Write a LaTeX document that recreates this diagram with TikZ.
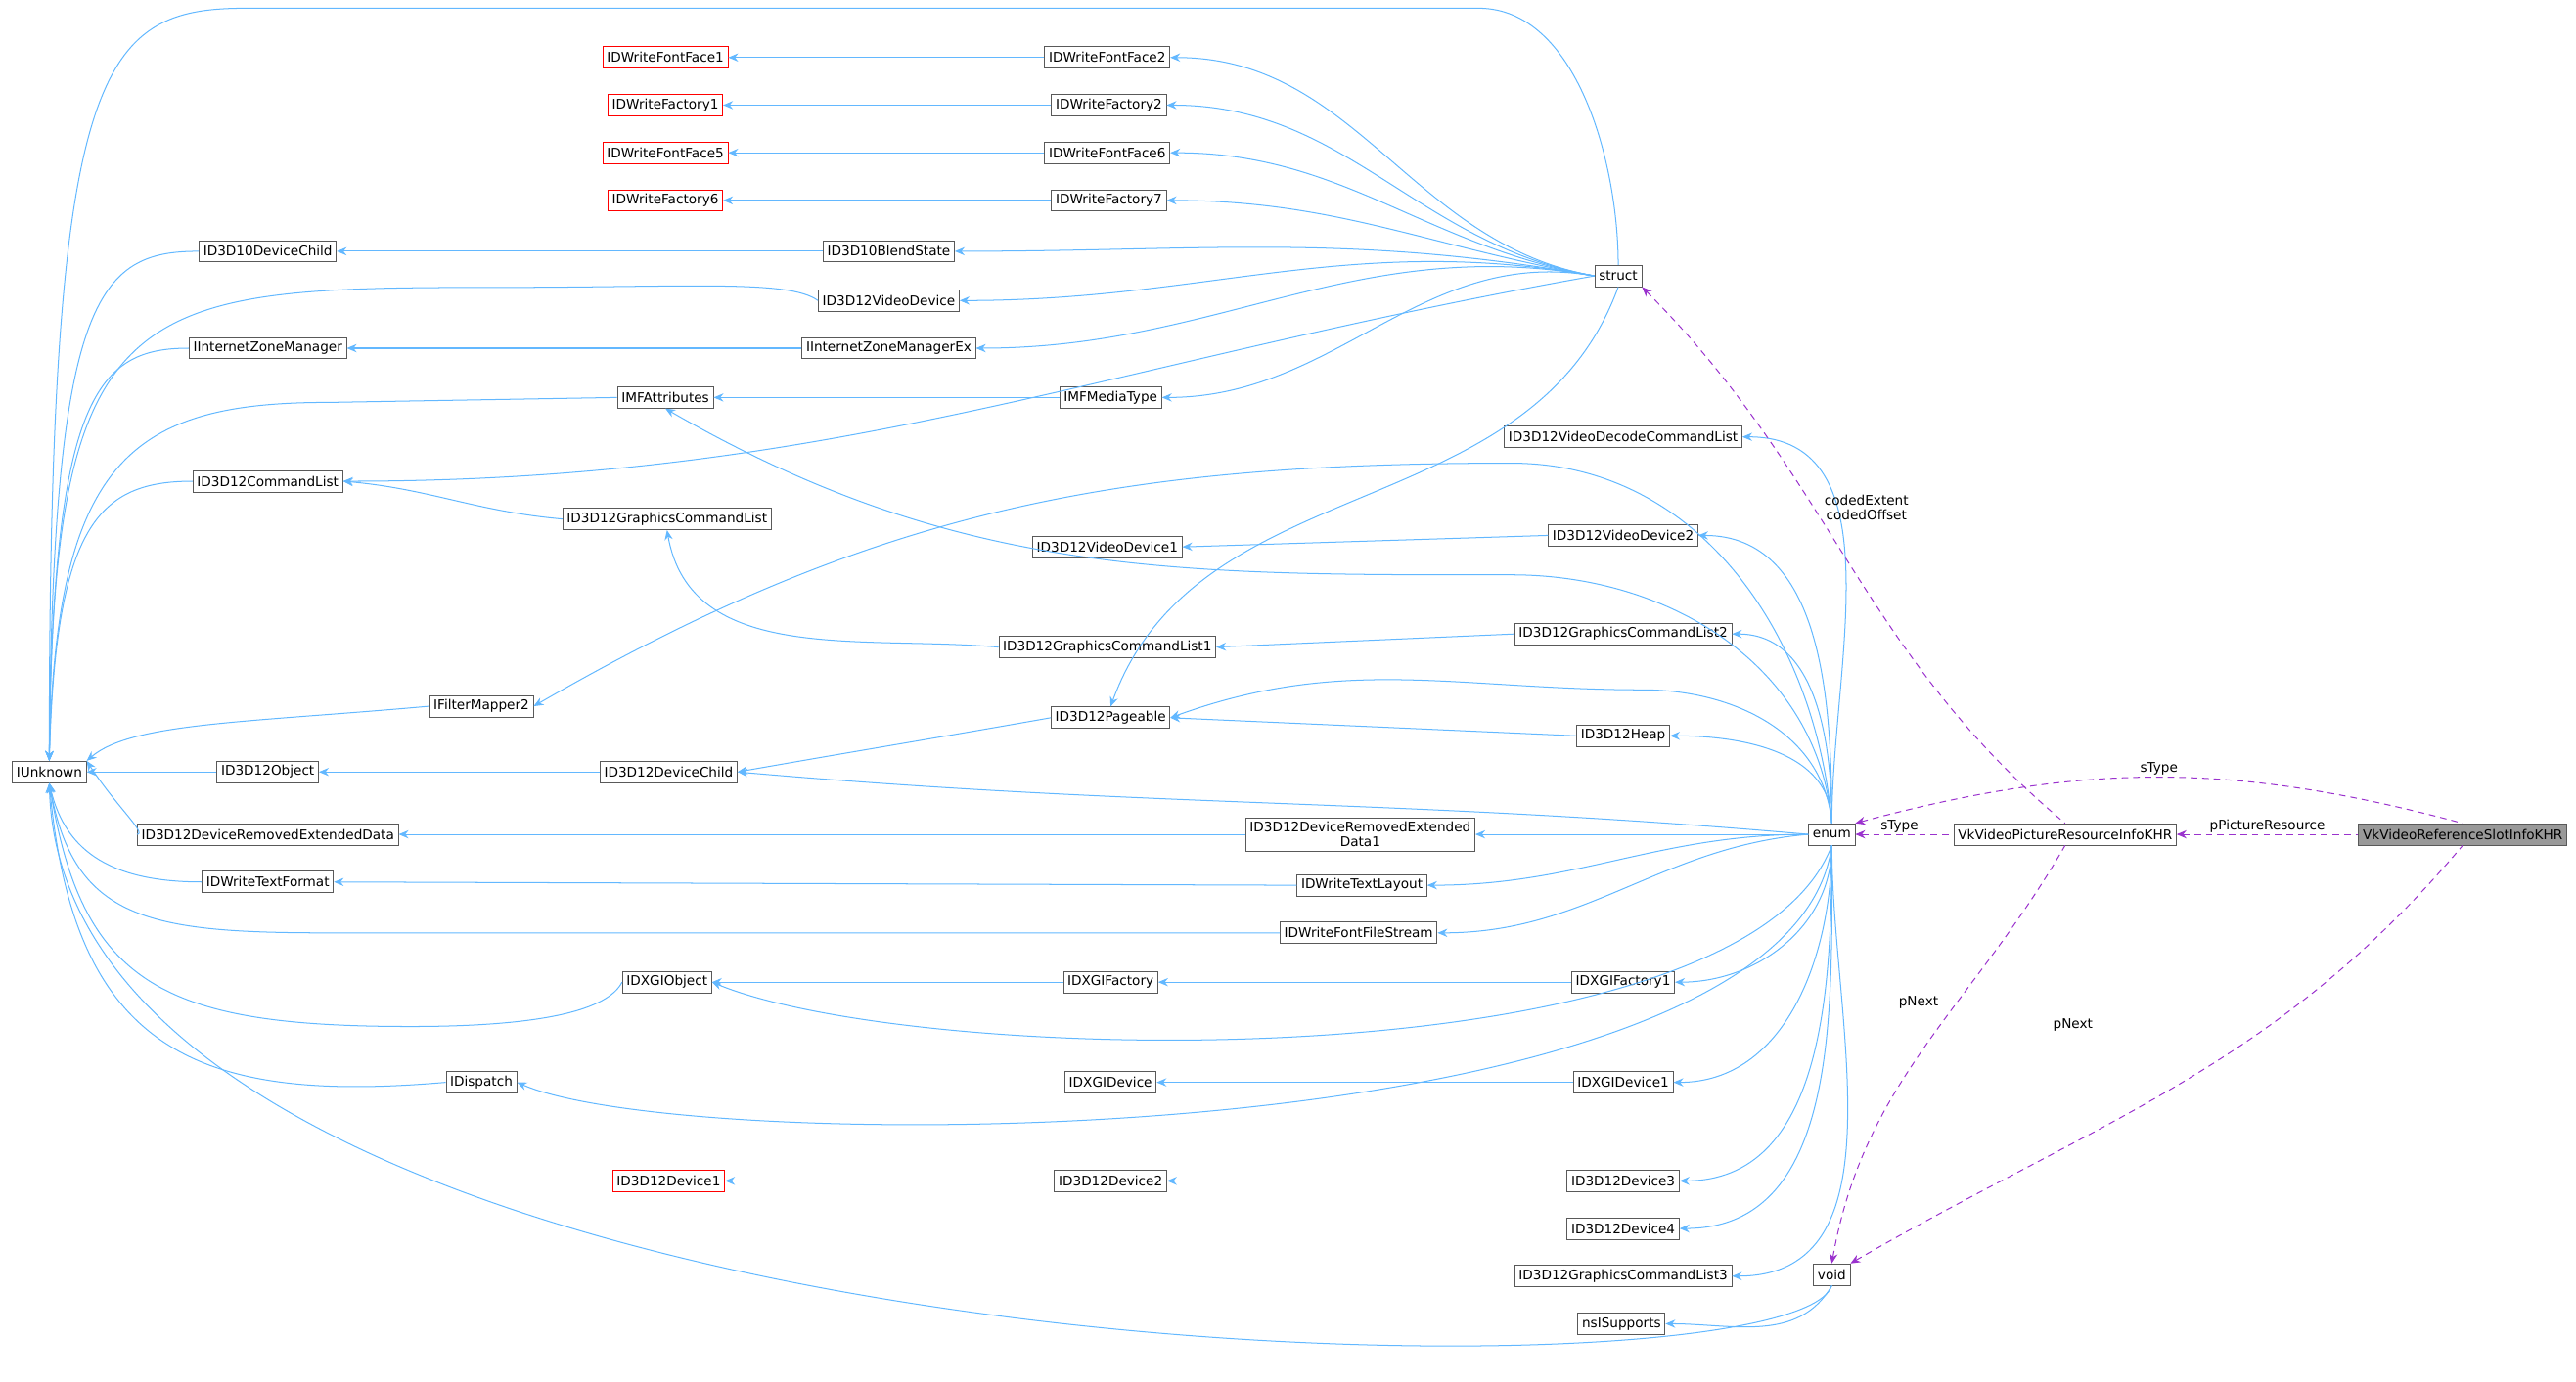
\documentclass[tikz,border=0pt]{standalone}
\usepackage{fontspec}
\setmainfont{DejaVu Sans}
\usetikzlibrary{arrows.meta}
\definecolor{eb}{HTML}{63B8FF}
\definecolor{ep}{HTML}{9A32CD}
\begin{document}
\begin{tikzpicture}[x=1pt,y=-1pt,
  every node/.style={font=\fontsize{8.1}{9}\selectfont},
  n/.style={draw=black!65, line width=0.5pt, inner sep=2.5pt, minimum height=13pt, fill=white},
  r/.style={n, draw=red},
  b/.style={draw=eb, line width=0.6pt, {Stealth[length=6pt,width=5pt]}-},
  p/.style={draw=ep, line width=0.6pt, dash pattern=on 4pt off 3pt, {Stealth[length=6pt,width=5pt]}-},
  lb/.style={font=\fontsize{8.1}{9}\selectfont, align=center}]
\useasboundingbox (0,0) rectangle (1568,841);
% nodes
\node[n] (IU) at (30,470) {IUnknown};
\node[r] (FF1) at (405,35) {IDWriteFontFace1};
\node[n] (FF2) at (674,35) {IDWriteFontFace2};
\node[r] (FA1) at (405,64) {IDWriteFactory1};
\node[n] (FA2) at (675,64) {IDWriteFactory2};
\node[r] (FF5) at (405,93) {IDWriteFontFace5};
\node[n] (FF6) at (674,93) {IDWriteFontFace6};
\node[r] (FA6) at (405,122) {IDWriteFactory6};
\node[n] (FA7) at (675,122) {IDWriteFactory7};
\node[n] (D10DC) at (163,153) {ID3D10DeviceChild};
\node[n] (D10BS) at (541,153) {ID3D10BlendState};
\node[n] (VD) at (541,183) {ID3D12VideoDevice};
\node[n] (ST) at (985,168) {struct};
\node[n] (IZM) at (163,212) {IInternetZoneManager};
\node[n] (IZMX) at (541,212) {IInternetZoneManagerEx};
\node[n] (MFA) at (405,242) {IMFAttributes};
\node[n] (MFM) at (676,242) {IMFMediaType};
\node[n] (VDCL) at (988,266) {ID3D12VideoDecodeCommandList};
\node[n] (CL) at (163,293) {ID3D12CommandList};
\node[n] (GCL) at (406,316) {ID3D12GraphicsCommandList};
\node[n] (VD1) at (674,333) {ID3D12VideoDevice1};
\node[n] (VD2) at (988,326) {ID3D12VideoDevice2};
\node[n] (GCL1) at (674,394) {ID3D12GraphicsCommandList1};
\node[n] (GCL2) at (988,386) {ID3D12GraphicsCommandList2};
\node[n] (FM2) at (293,430) {IFilterMapper2};
\node[n] (PG) at (676,437) {ID3D12Pageable};
\node[n] (HP) at (988,448) {ID3D12Heap};
\node[n] (OB) at (163,470) {ID3D12Object};
\node[n] (DC) at (407,470) {ID3D12DeviceChild};
\node[n] (DRED) at (163,508) {ID3D12DeviceRemovedExtendedData};
\node[n, align=center] (DRED1) at (828,508) {ID3D12DeviceRemovedExtended\\Data1};
\node[n] (EN) at (1115,508) {enum};
\node[n] (PR) at (1257,508) {VkVideoPictureResourceInfoKHR};
\node[n, fill=black!40] (RS) at (1499,508) {VkVideoReferenceSlotInfoKHR};
\node[n] (TF) at (163,537) {IDWriteTextFormat};
\node[n] (TL) at (829,539) {IDWriteTextLayout};
\node[n] (FFS) at (827,568) {IDWriteFontFileStream};
\node[n] (XO) at (406,598) {IDXGIObject};
\node[n] (XF) at (676,598) {IDXGIFactory};
\node[n] (XF1) at (988,598) {IDXGIFactory1};
\node[n] (XD) at (676,659) {IDXGIDevice};
\node[n] (XD1) at (988,659) {IDXGIDevice1};
\node[n] (DS) at (293,659) {IDispatch};
\node[r] (DV1) at (407,719) {ID3D12Device1};
\node[n] (DV2) at (676,719) {ID3D12Device2};
\node[n] (DV3) at (988,719) {ID3D12Device3};
\node[n] (DV4) at (988,748) {ID3D12Device4};
\node[n] (GCL3) at (988,777) {ID3D12GraphicsCommandList3};
\node[n] (VO) at (1115,776) {void};
\node[n] (NS) at (987,806) {nsISupports};
% blue edges
\draw[b] (IU.north) .. controls (30,40) and (60,5) .. (150,5) -- (900,5) .. controls (960,5) and (985,100) .. (ST.north);
\foreach \a/\bb in {FF1/FF2,FA1/FA2,FF5/FF6,FA6/FA7,D10DC/D10BS,IZM/IZMX,MFA/MFM,OB/DC,DRED/DRED1,TF/TL,XO/XF,XF/XF1,XD/XD1,DV1/DV2,DV2/DV3,PG/HP,VD1/VD2,GCL1/GCL2,IU/OB}
  \draw[b] (\a.east) -- (\bb.west);
\draw[b] (CL.east) to[out=-5,in=175] (GCL.west);
\draw[b] (GCL.south) to[out=-80,in=175] (GCL1.west);
\foreach \a in {FF2,FA2,FF6,FA7,D10BS,VD,IZMX,MFM}
  \draw[b] (\a.east) to[out=0,in=170] (ST.west);
\draw[b] (CL.east) to[out=0,in=190] (ST.west);
\draw[b] (PG.north) to[out=70,in=250] (ST.south);
% IUnknown fan
\draw[b] (IU.north) .. controls (32,180) and (60,153) .. (D10DC.west);
\draw[b] (IU.north) .. controls (32,180) and (80,175) .. (300,175) .. controls (420,175) and (480,170) .. (VD.west);
\draw[b] (IU.north) .. controls (32,240) and (60,212) .. (IZM.west);
\draw[b] (IU.north) .. controls (34,280) and (80,245) .. (200,245) -- (MFA.west);
\draw[b] (IU.north) .. controls (34,320) and (60,293) .. (CL.west);
\draw[b] (IU.north east) .. controls (80,440) and (150,440) .. (FM2.west);
\draw[b] (IU.north east) .. controls (70,490) and (90,508) .. (DRED.west);
\draw[b] (IU.south) .. controls (40,520) and (70,537) .. (TF.west);
\draw[b] (IU.south) .. controls (45,560) and (90,568) .. (200,568) -- (FFS.west);
\draw[b] (IU.south) .. controls (50,600) and (100,625) .. (250,625) .. controls (330,625) and (370,615) .. (XO.west);
\draw[b] (IU.south) .. controls (45,640) and (120,672) .. (DS.west);
\draw[b] (IU.south) .. controls (40,840) and (1090,860) .. (VO.south);
\draw[b] (DC.east) to[out=10,in=190] (PG.west);
\draw[b] (FM2.east) to[out=30,in=180] (920,282) to[out=0,in=95] (EN.north);
\draw[b] (MFA.south) to[out=-30,in=180] (920,350) to[out=0,in=95] (EN.north);
\draw[b] (PG.east) to[out=20,in=180] (1000,420) to[out=0,in=95] (EN.north);
\foreach \a in {VDCL,VD2,GCL2,HP}
  \draw[b] (\a.east) to[out=0,in=90] (EN.north);
\draw[b] (DC.east) to[out=-5,in=175] (EN.west);
\draw[b] (DRED1.east) -- (EN.west);
\draw[b] (TL.east) to[out=0,in=180] (EN.west);
\draw[b] (FFS.east) to[out=0,in=185] (EN.west);
\draw[b] (XO.east) .. controls (560,650) and (1060,660) .. (EN.south);
\draw[b] (DS.east) .. controls (420,705) and (1090,705) .. (EN.south);
\foreach \a in {XF1,XD1,DV3,DV4,GCL3}
  \draw[b] (\a.east) to[out=0,in=-90] (EN.south);
\draw[b] (NS.east) to[out=0,in=-120] (VO.south);
% purple
\draw[p] (ST.south east) to[out=-45,in=140] node[lb,pos=0.4,right,xshift=3pt]{codedExtent\\codedOffset} (PR.north);
\draw[p] (EN.east) -- node[lb,above,pos=0.45,inner sep=1pt]{sType} (PR.west);
\draw[p] (EN.north east) to[out=15,in=165] node[lb,above,inner sep=1pt]{sType} (RS.north);
\draw[p] (PR.east) -- node[lb,above,inner sep=1pt]{pPictureResource} (RS.west);
\draw[p] (VO.north) to[out=80,in=-120] node[lb,pos=0.62,left,xshift=-8pt]{pNext} (PR.south);
\draw[p] (VO.north east) to[out=30,in=-130] node[lb,pos=0.5,above left,xshift=-50pt,yshift=28pt]{pNext} (RS.south);
\end{tikzpicture}
\end{document}
